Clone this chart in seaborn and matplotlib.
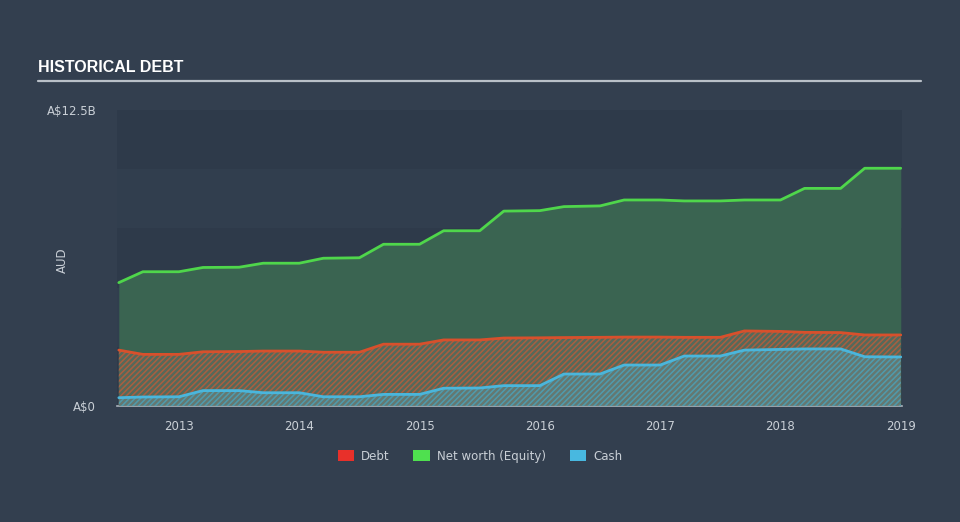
import matplotlib
matplotlib.use("Agg")
import matplotlib.pyplot as plt
import seaborn as sns
import pandas as pd
from matplotlib.patches import Patch

# ---- data (A$ billions) ----
years = [2012.5, 2012.7, 2013.0, 2013.2, 2013.5, 2013.7, 2014.0, 2014.2, 2014.5,
         2014.7, 2015.0, 2015.2, 2015.5, 2015.7, 2016.0, 2016.2, 2016.5, 2016.7,
         2017.0, 2017.2, 2017.5, 2017.7, 2018.0, 2018.2, 2018.5, 2018.7, 2019.0]
equity = [5.21, 5.67, 5.67, 5.85, 5.86, 6.03, 6.03, 6.24, 6.26,
          6.83, 6.83, 7.40, 7.40, 8.23, 8.25, 8.42, 8.45, 8.70,
          8.70, 8.66, 8.66, 8.70, 8.70, 9.19, 9.19, 10.04, 10.04]
debt = [2.36, 2.18, 2.18, 2.29, 2.30, 2.32, 2.32, 2.27, 2.27,
        2.61, 2.61, 2.79, 2.79, 2.87, 2.88, 2.89, 2.90, 2.91,
        2.91, 2.90, 2.90, 3.17, 3.15, 3.11, 3.10, 3.00, 3.00]
cash = [0.35, 0.38, 0.39, 0.65, 0.65, 0.56, 0.56, 0.39, 0.39,
        0.49, 0.49, 0.75, 0.76, 0.86, 0.86, 1.35, 1.35, 1.73,
        1.73, 2.11, 2.11, 2.36, 2.39, 2.41, 2.41, 2.08, 2.07]
xticks = [2013, 2014, 2015, 2016, 2017, 2018, 2019]
ytick_vals = [0, 12.5]
ytick_labels = ["A$0", "A$12.5B"]
legend_labels = ["Debt", "Net worth (Equity)", "Cash"]

df = pd.DataFrame({"year": years, "equity": equity, "debt": debt, "cash": cash})

BG = "#333f4f"
C_DEBT = "#d8502c"
C_EQ = "#4fd64b"
C_CASH = "#4ab6dc"
TXT = "#c9cfd6"

sns.set_style("dark")
plt.rcParams["hatch.linewidth"] = 1.1
plt.rcParams["font.family"] = ["DejaVu Sans"]

fig = plt.figure(figsize=(9.6, 5.22), dpi=100, facecolor=BG)
ax = fig.add_axes([117/960, 1-406/522, (902-117)/960, (406-110)/522])
ax.set_facecolor("#303c4c")

# subtle alternating background bands
for i in range(5):
    ax.axhspan(i*2.5, (i+1)*2.5, color="#2e3a4a" if i % 2 == 0 else "#313e4e", lw=0, zorder=0)

ax.fill_between(df["year"], 0, df["equity"], color="#3a6451", lw=0, zorder=1)
ax.fill_between(df["year"], 0, df["debt"], facecolor="#5a6a5c", edgecolor="#b85d3c",
                hatch="//////", lw=0, alpha=0.85, zorder=2)
ax.fill_between(df["year"], 0, df["cash"], facecolor="#667a74", edgecolor="#4b9fb4",
                hatch="//////", lw=0, alpha=0.9, zorder=3)

sns.lineplot(data=df, x="year", y="equity", color=C_EQ, lw=2, ax=ax, zorder=5)
sns.lineplot(data=df, x="year", y="debt", color=C_DEBT, lw=2, ax=ax, zorder=5)
sns.lineplot(data=df, x="year", y="cash", color=C_CASH, lw=2, ax=ax, zorder=5)

ax.set_xlim(2012.485, 2019.01)
ax.set_ylim(0, 12.5)
ax.set_xticks(xticks)
ax.set_xticklabels([str(t) for t in xticks])
ax.set_yticks(ytick_vals)
ax.set_yticklabels(ytick_labels)
ax.set_xlabel("")
ax.set_ylabel("")
ax.tick_params(axis="x", colors="#aab3bd", length=6, width=1, direction="out",
               labelcolor=TXT, labelsize=8.5, pad=4)
ax.tick_params(axis="y", length=0, labelcolor=TXT, labelsize=8.5, pad=15)
for s in ["top", "right", "left"]:
    ax.spines[s].set_visible(False)
ax.spines["bottom"].set_color("#aab3bd")
ax.spines["bottom"].set_linewidth(1.2)
ax.grid(False)

fig.text(62/960, 1-260/522, "AUD", color=TXT, fontsize=8.5, rotation=90,
         ha="center", va="center")

# title and rule
fig.text(38/960, 1-68/522, "HISTORICAL DEBT", color="white", fontsize=11.5,
         fontweight="bold", family=["Liberation Sans", "DejaVu Sans"],
         va="center", ha="left")
fig.add_artist(plt.Line2D([38/960, 921/960], [1-81/522, 1-81/522], color="#b9c0c8", lw=1.6))

handles = [Patch(facecolor="#e8302a", edgecolor="none"),
           Patch(facecolor="#4fe04f", edgecolor="none"),
           Patch(facecolor="#48b8e0", edgecolor="none")]
leg = fig.legend(handles, legend_labels, loc="center", bbox_to_anchor=(0.5, 1-456/522),
                 ncol=3, frameon=False, fontsize=8.5, handlelength=1.4, handleheight=1.0,
                 columnspacing=2.0, handletextpad=0.6)
for t in leg.get_texts():
    t.set_color(TXT)

fig.savefig("out.png", dpi=100, facecolor=BG)
